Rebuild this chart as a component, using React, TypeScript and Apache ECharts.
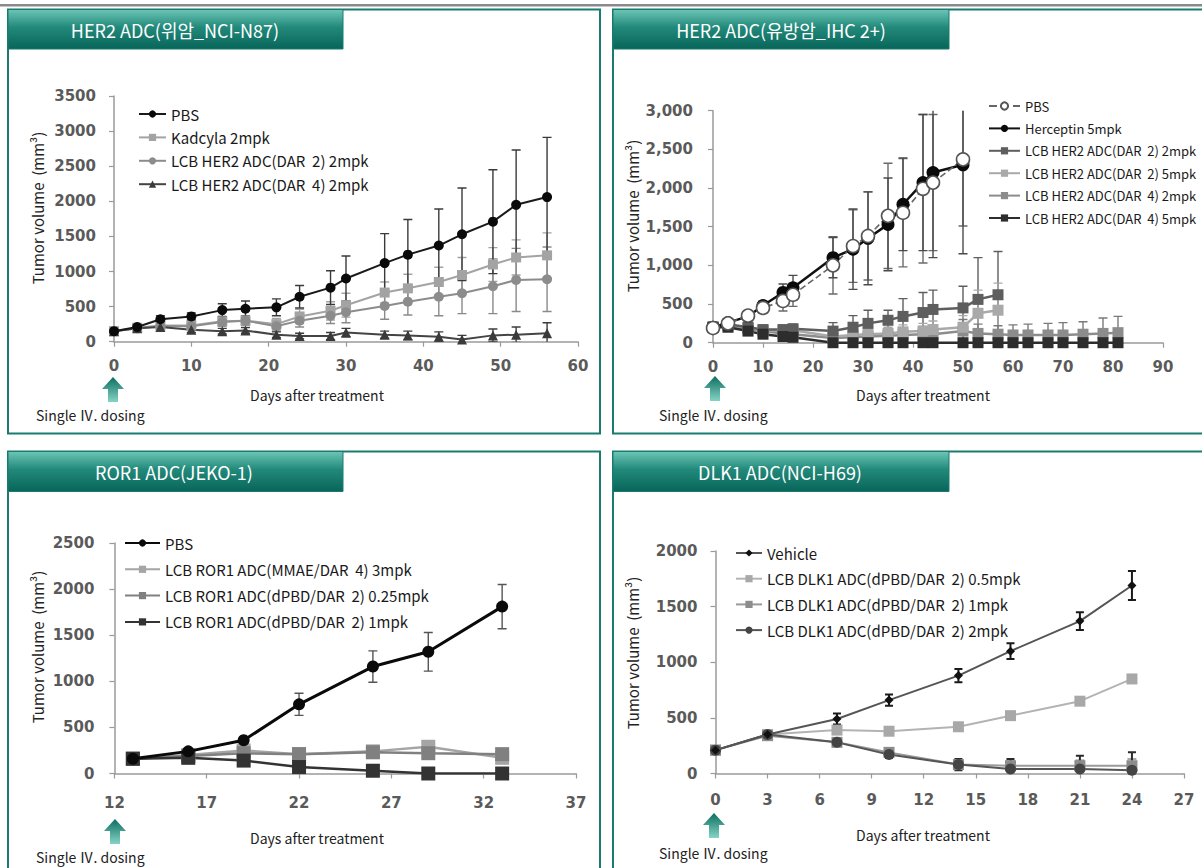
import React, { useEffect, useRef } from "react";
import * as echarts from "echarts";

// ---------- Panel 1: HER2 ADC (gastric, NCI-N87) ----------
const p1Days = [0, 3, 6, 10, 14, 17, 21, 24, 28, 30, 35, 38, 42, 45, 49, 52, 56];
const p1Pbs = [150, 210, 320, 360, 450, 470, 490, 640, 770, 900, 1120, 1240, 1370, 1530, 1710, 1950, 2060];
const p1PbsErr = [30, 40, 50, 50, 90, 110, 120, 160, 240, 320, 420, 500, 520, 660, 740, 780, 850];
const p1Kad = [150, 200, 230, 230, 290, 300, 250, 360, 440, 520, 700, 760, 850, 950, 1100, 1200, 1230];
const p1KadErr = [20, 30, 40, 40, 60, 70, 80, 100, 130, 170, 150, 200, 210, 250, 240, 250, 320];
const p1Dar2 = [150, 190, 220, 220, 280, 300, 220, 300, 370, 420, 510, 570, 640, 690, 790, 880, 890];
const p1Dar2Err = [20, 30, 40, 40, 60, 70, 70, 90, 110, 150, 190, 190, 270, 290, 390, 450, 460];
const p1Dar4 = [150, 190, 210, 170, 150, 160, 100, 80, 80, 130, 100, 90, 70, 30, 90, 100, 120];
const p1Dar4Err = [20, 30, 30, 40, 40, 40, 40, 40, 50, 60, 50, 60, 70, 60, 90, 110, 150];
const p1Names = ["PBS", "Kadcyla 2mpk", "LCB HER2 ADC(DAR  2) 2mpk", "LCB HER2 ADC(DAR  4) 2mpk"];

// ---------- Panel 2: HER2 ADC (breast, IHC 2+) ----------
const p2DaysA = [0, 3, 7, 10, 14, 16, 24, 28, 31, 35, 38, 42, 44, 50];
const p2DaysB = [0, 3, 7, 10, 14, 16, 24, 28, 31, 35, 38, 42, 44, 50, 53, 57];
const p2DaysC = [0, 3, 7, 10, 14, 16, 24, 28, 31, 35, 38, 42, 44, 50, 53, 57, 60, 63, 67, 70, 74, 78, 81];
const p2Pbs = [190, 250, 350, 450, 540, 620, 1000, 1250, 1380, 1640, 1680, 1990, 2070, 2370];
const p2PbsErr = [30, 40, 60, 70, 130, 150, 370, 470, 570, 680, 700, 960, 880, 860];
const p2Herc = [200, 260, 340, 480, 650, 710, 1100, 1210, 1350, 1530, 1790, 2070, 2200, 2300];
const p2HercErr = [30, 40, 60, 60, 110, 160, 260, 520, 600, 600, 600, 880, 1100, 1150];
const p2D2m2 = [200, 240, 200, 170, 170, 180, 150, 200, 250, 290, 340, 390, 430, 450, 560, 620];
const p2D2m2Err = [30, 40, 40, 40, 50, 60, 110, 150, 170, 130, 230, 260, 250, 280, 540, 560];
const p2D2m5 = [200, 230, 190, 160, 150, 160, 80, 100, 110, 120, 140, 150, 170, 200, 380, 420];
const p2D2m5Err = [30, 30, 30, 40, 40, 50, 60, 70, 80, 80, 90, 100, 110, 150, 300, 350];
const p2D4m2 = [200, 220, 180, 150, 120, 110, 60, 70, 80, 90, 100, 110, 110, 150, 120, 110, 100, 100, 100, 100, 110, 120, 130];
const p2D4m2Err = [30, 30, 30, 30, 40, 40, 60, 70, 80, 80, 90, 100, 100, 150, 120, 110, 130, 140, 150, 160, 160, 200, 210];
const p2D4m5 = [200, 200, 150, 110, 80, 70, 0, 0, 0, 0, 0, 0, 0, 0, 0, 0, 0, 0, 0, 0, 0, 0, 0];
const p2D4m5Err = [20, 20, 20, 20, 20, 20, 5, 5, 5, 5, 5, 5, 5, 5, 5, 5, 5, 5, 5, 5, 5, 5, 5];
const p2Names = [
  "PBS",
  "Herceptin 5mpk",
  "LCB HER2 ADC(DAR  2) 2mpk",
  "LCB HER2 ADC(DAR  2) 5mpk",
  "LCB HER2 ADC(DAR  4) 2mpk",
  "LCB HER2 ADC(DAR  4) 5mpk",
];

// ---------- Panel 3: ROR1 ADC (JEKO-1) ----------
const p3Days = [13, 16, 19, 22, 26, 29, 33];
const p3Pbs = [160, 240, 360, 750, 1160, 1320, 1810];
const p3PbsErr = [20, 30, 40, 120, 170, 210, 240];
const p3Mmae = [160, 200, 250, 210, 240, 290, 170];
const p3MmaeErr = [20, 30, 40, 30, 40, 50, 40];
const p3D025 = [160, 190, 220, 210, 230, 220, 210];
const p3D025Err = [20, 30, 30, 30, 30, 40, 50];
const p3D1 = [160, 170, 140, 70, 30, 0, 0];
const p3D1Err = [20, 20, 20, 20, 10, 10, 5];
const p3Names = [
  "PBS",
  "LCB ROR1 ADC(MMAE/DAR  4) 3mpk",
  "LCB ROR1 ADC(dPBD/DAR  2) 0.25mpk",
  "LCB ROR1 ADC(dPBD/DAR  2) 1mpk",
];

// ---------- Panel 4: DLK1 ADC (NCI-H69) ----------
const p4Days = [0, 3, 7, 10, 14, 17, 21, 24];
const p4Veh = [210, 350, 490, 660, 880, 1100, 1370, 1690];
const p4VehErr = [15, 20, 50, 50, 60, 70, 80, 130];
const p4D05 = [210, 350, 390, 380, 420, 520, 650, 850];
const p4D05Err = [10, 15, 20, 20, 20, 20, 20, 30];
const p4D1 = [210, 340, 280, 190, 80, 70, 70, 70];
const p4D1Err = [10, 15, 20, 30, 40, 40, 50, 60];
const p4D2 = [210, 350, 280, 170, 80, 40, 40, 30];
const p4D2Err = [10, 15, 20, 30, 50, 90, 120, 160];
const p4Names = [
  "Vehicle",
  "LCB DLK1 ADC(dPBD/DAR  2) 0.5mpk",
  "LCB DLK1 ADC(dPBD/DAR  2) 1mpk",
  "LCB DLK1 ADC(dPBD/DAR  2) 2mpk",
];

const panelTitles = ["HER2 ADC(위암_NCI-N87)", "HER2 ADC(유방암_IHC 2+)", "ROR1 ADC(JEKO-1)", "DLK1 ADC(NCI-H69)"];
const xTitle = "Days after treatment";
const yTitle = "Tumor volume  (mm³)";
const doseText = "Single Ⅳ. dosing";

const KR = "'Noto Sans CJK KR', 'Noto Sans', sans-serif";
const TICKF = "'DejaVu Sans', sans-serif";

type Sty = { symbol: string; size: number; fill: string; line: string; width: number; border?: string; bw?: number; dash?: boolean; z?: number };

const key = (p: number, n: string) => `p${p}|${n}`;

const mkLine = (gi: number, name: string, xs: number[], ys: number[], s: Sty) => ({
  type: "line",
  name,
  xAxisIndex: gi,
  yAxisIndex: gi,
  data: xs.map((x, i) => [x, ys[i]]),
  symbol: s.symbol,
  symbolSize: s.size,
  lineStyle: { color: s.line, width: s.width, type: s.dash ? "dashed" : "solid" },
  itemStyle: { color: s.fill, borderColor: s.border ?? s.fill, borderWidth: s.bw ?? 0 },
  z: s.z ?? 3,
  clip: true,
});

const mkErr = (gi: number, xs: number[], ys: number[], es: number[], color: string, cap = 9, lw = 1.4) => ({
  type: "custom",
  xAxisIndex: gi,
  yAxisIndex: gi,
  clip: true,
  silent: true,
  z: 2,
  encode: { x: 0, y: [1, 2] },
  data: xs.map((x, i) => [x, ys[i] - es[i], ys[i] + es[i]]),
  renderItem: (_p: any, api: any) => {
    const x = api.value(0);
    const lo = api.coord([x, api.value(1)]);
    const hi = api.coord([x, api.value(2)]);
    const h = cap / 2;
    const st = { stroke: color, lineWidth: lw, fill: "none" };
    return {
      type: "group",
      children: [
        { type: "line", shape: { x1: lo[0], y1: lo[1], x2: hi[0], y2: hi[1] }, style: st },
        { type: "line", shape: { x1: hi[0] - h, y1: hi[1], x2: hi[0] + h, y2: hi[1] }, style: st },
        { type: "line", shape: { x1: lo[0] - h, y1: lo[1], x2: lo[0] + h, y2: lo[1] }, style: st },
      ],
    };
  },
});

const tealGrad = () =>
  new echarts.graphic.LinearGradient(0, 0, 0, 1, [
    { offset: 0, color: "#6cc6b6" },
    { offset: 0.45, color: "#22897a" },
    { offset: 1, color: "#08655a" },
  ]);
const arrowGrad = () =>
  new echarts.graphic.LinearGradient(0, 0, 0, 1, [
    { offset: 0, color: "#0d6e61" },
    { offset: 1, color: "#84d4c5" },
  ]);

const arrow = (cx: number, t: number) => ({
  type: "polygon",
  shape: {
    points: [
      [cx, t],
      [cx + 11, t + 12],
      [cx + 5, t + 12],
      [cx + 5, t + 25],
      [cx - 5, t + 25],
      [cx - 5, t + 12],
      [cx - 11, t + 12],
    ],
  },
  style: { fill: arrowGrad() },
});

const txt = (x: number, y: number, text: string, size: number, color: string, align = "center", rot = 0, family = KR) => ({
  type: "text",
  x,
  y,
  rotation: rot,
  style: { text, fill: color, fontSize: size, fontFamily: family, align, verticalAlign: "middle" },
  z: 10,
});

const panelRect = (x: number, y: number, w: number, h: number) => ({
  type: "rect",
  shape: { x, y, width: w, height: h },
  style: { fill: "none", stroke: "#1b7b6e", lineWidth: 2 },
  z: 1,
});
const tab = (x: number, y: number, w: number, h: number) => ({
  type: "rect",
  shape: { x, y, width: w, height: h },
  style: { fill: tealGrad(), stroke: "#1b7b6e", lineWidth: 1 },
  z: 2,
});

const plain = (v: number) => String(v);
const comma = (v: number) => v.toLocaleString("en-US");

const axisLabel = (margin: number, fmt: (v: number) => string) => ({
  fontFamily: TICKF,
  fontSize: 15,
  fontWeight: "bold",
  color: "#5a5a5a",
  margin,
  lineHeight: 16,
  formatter: fmt,
});
const axisLine = { show: true, lineStyle: { color: "#9a9a9a", width: 1.5 } };
const axisTick = { show: true, length: 5, lineStyle: { color: "#9a9a9a", width: 1.2 } };

const mkX = (gi: number, min: number, max: number, interval: number, margin: number) => ({
  type: "value",
  gridIndex: gi,
  min,
  max,
  interval,
  axisLine,
  axisTick,
  splitLine: { show: false },
  axisLabel: axisLabel(margin, plain),
});
const mkY = (gi: number, max: number, interval: number, margin: number, fmt: (v: number) => string) => ({
  type: "value",
  gridIndex: gi,
  min: 0,
  max,
  interval,
  axisLine,
  axisTick,
  splitLine: { show: false },
  axisLabel: axisLabel(margin, fmt),
});

const mkLegend = (names: string[], left: number, top: number, gap: number, iw: number, family: string, size: number) => ({
  data: names,
  orient: "vertical",
  left,
  top,
  padding: 0,
  itemGap: gap,
  itemWidth: iw,
  itemHeight: 9,
  selectedMode: false,
  formatter: (n: string) => n.split("|")[1],
  textStyle: { fontFamily: family, fontSize: size, color: "#1a1a1a", lineHeight: 16 },
});

export default function App() {
  const ref = useRef<HTMLDivElement>(null);
  useEffect(() => {
    if (!ref.current) return;
    const chart = echarts.init(ref.current, undefined, { renderer: "svg" });

    const n1 = p1Names.map((n) => key(1, n));
    const n2 = p2Names.map((n) => key(2, n));
    const n3 = p3Names.map((n) => key(3, n));
    const n4 = p4Names.map((n) => key(4, n));

    const series: any[] = [
      // panel 1
      mkErr(0, p1Days, p1Kad, p1KadErr, "#a3a3a3"),
      mkErr(0, p1Days, p1Dar2, p1Dar2Err, "#8a8a8a"),
      mkErr(0, p1Days, p1Dar4, p1Dar4Err, "#3c3c3c"),
      mkErr(0, p1Days, p1Pbs, p1PbsErr, "#3a3a3a"),
      mkLine(0, n1[1], p1Days, p1Kad, { symbol: "rect", size: 10, fill: "#a3a3a3", line: "#a3a3a3", width: 2 }),
      mkLine(0, n1[2], p1Days, p1Dar2, { symbol: "circle", size: 10, fill: "#8c8c8c", line: "#8c8c8c", width: 2 }),
      mkLine(0, n1[3], p1Days, p1Dar4, { symbol: "triangle", size: 10, fill: "#3a3a3a", line: "#444444", width: 2 }),
      mkLine(0, n1[0], p1Days, p1Pbs, { symbol: "circle", size: 10, fill: "#0a0a0a", line: "#1a1a1a", width: 2, z: 4 }),
      // panel 2
      mkErr(1, p2DaysA, p2Pbs, p2PbsErr, "#6a6a6a"),
      mkErr(1, p2DaysA, p2Herc, p2HercErr, "#4a4a4a"),
      mkErr(1, p2DaysB, p2D2m2, p2D2m2Err, "#5e5e5e"),
      mkErr(1, p2DaysB, p2D2m5, p2D2m5Err, "#a9a9a9"),
      mkErr(1, p2DaysC, p2D4m2, p2D4m2Err, "#7a7a7a"),
      mkErr(1, p2DaysC, p2D4m5, p2D4m5Err, "#2d2d2d"),
      mkLine(1, n2[4], p2DaysC, p2D4m2, { symbol: "rect", size: 11, fill: "#8c8c8c", line: "#8c8c8c", width: 2.5 }),
      mkLine(1, n2[3], p2DaysB, p2D2m5, { symbol: "rect", size: 11, fill: "#a9a9a9", line: "#a9a9a9", width: 2.5 }),
      mkLine(1, n2[2], p2DaysB, p2D2m2, { symbol: "rect", size: 11, fill: "#5e5e5e", line: "#5e5e5e", width: 2.5 }),
      mkLine(1, n2[5], p2DaysC, p2D4m5, { symbol: "rect", size: 11, fill: "#2d2d2d", line: "#2d2d2d", width: 2.5 }),
      mkLine(1, n2[1], p2DaysA, p2Herc, { symbol: "circle", size: 13, fill: "#0a0a0a", line: "#111111", width: 2.5, z: 4 }),
      mkLine(1, n2[0], p2DaysA, p2Pbs, { symbol: "circle", size: 13, fill: "#ffffff", border: "#555555", bw: 1.6, line: "#666666", width: 1.6, dash: true, z: 4 }),
      // panel 3
      mkErr(2, p3Days, p3Mmae, p3MmaeErr, "#a5a5a5"),
      mkErr(2, p3Days, p3D025, p3D025Err, "#808080"),
      mkErr(2, p3Days, p3D1, p3D1Err, "#333333"),
      mkErr(2, p3Days, p3Pbs, p3PbsErr, "#555555"),
      mkLine(2, n3[1], p3Days, p3Mmae, { symbol: "rect", size: 14, fill: "#a5a5a5", line: "#a5a5a5", width: 2.5 }),
      mkLine(2, n3[2], p3Days, p3D025, { symbol: "rect", size: 14, fill: "#808080", line: "#808080", width: 2.5 }),
      mkLine(2, n3[3], p3Days, p3D1, { symbol: "rect", size: 14, fill: "#333333", line: "#333333", width: 2.5 }),
      mkLine(2, n3[0], p3Days, p3Pbs, { symbol: "circle", size: 12, fill: "#0a0a0a", line: "#0a0a0a", width: 3, z: 4 }),
      // panel 4
      mkErr(3, p4Days, p4D05, p4D05Err, "#a8a8a8"),
      mkErr(3, p4Days, p4D1, p4D1Err, "#8a8a8a"),
      mkErr(3, p4Days, p4D2, p4D2Err, "#2a2a2a", 8, 2),
      mkErr(3, p4Days, p4Veh, p4VehErr, "#1a1a1a", 8, 2),
      mkLine(3, n4[1], p4Days, p4D05, { symbol: "rect", size: 11, fill: "#a8a8a8", line: "#b3b3b3", width: 2 }),
      mkLine(3, n4[2], p4Days, p4D1, { symbol: "rect", size: 11, fill: "#8c8c8c", line: "#9a9a9a", width: 2 }),
      mkLine(3, n4[3], p4Days, p4D2, { symbol: "circle", size: 11, fill: "#444444", line: "#555555", width: 2 }),
      mkLine(3, n4[0], p4Days, p4Veh, { symbol: "diamond", size: 9, fill: "#111111", line: "#555555", width: 2, z: 4 }),
    ];

    const graphic: any[] = [
      { type: "rect", shape: { x: 0, y: 4, width: 1202, height: 2.5 }, style: { fill: "#8a8a8a" }, z: 1 },
      panelRect(8, 9.5, 592, 424),
      panelRect(613, 9.5, 620, 424),
      panelRect(8, 451.5, 592, 440),
      panelRect(613, 451.5, 620, 440),
      tab(8, 9.5, 335, 39.5),
      tab(613, 9.5, 336, 39.5),
      tab(8, 451.5, 335, 40),
      tab(613, 451.5, 336, 40),
      txt(175, 29.5, panelTitles[0], 18, "#ffffff"),
      txt(781, 29.5, panelTitles[1], 18, "#ffffff"),
      txt(174, 471.5, panelTitles[2], 18, "#ffffff"),
      txt(780, 471.5, panelTitles[3], 18, "#ffffff"),
      txt(317, 395, xTitle, 14, "#222222"),
      txt(923, 395, xTitle, 14, "#222222"),
      txt(317, 837.5, xTitle, 14, "#222222"),
      txt(923, 835, xTitle, 14, "#222222"),
      txt(37, 208, yTitle, 15, "#222222", "center", Math.PI / 2),
      txt(632, 216, yTitle, 15, "#222222", "center", Math.PI / 2),
      txt(37, 647, yTitle, 15, "#222222", "center", Math.PI / 2),
      txt(632, 653, yTitle, 15, "#222222", "center", Math.PI / 2),
      arrow(113, 377),
      arrow(715, 376),
      arrow(115, 819),
      arrow(714, 813),
      txt(36, 415, doseText, 14, "#222222", "left"),
      txt(659, 415, doseText, 14, "#222222", "left"),
      txt(36, 857, doseText, 14, "#222222", "left"),
      txt(659, 853, doseText, 14, "#222222", "left"),
    ];

    chart.setOption({
      animation: false,
      backgroundColor: "#ffffff",
      grid: [
        { left: 114, top: 96, width: 464, height: 245.7, outerBoundsMode: "none", containLabel: false },
        { left: 713, top: 110.7, width: 450, height: 232, outerBoundsMode: "none", containLabel: false },
        { left: 114.4, top: 543, width: 461.6, height: 230.5, outerBoundsMode: "none", containLabel: false },
        { left: 715.5, top: 551, width: 468.5, height: 222.5, outerBoundsMode: "none", containLabel: false },
      ],
      xAxis: [mkX(0, 0, 60, 10, 16), mkX(1, 0, 90, 10, 16), mkX(2, 12, 37, 5, 21), mkX(3, 0, 27, 3, 18)],
      yAxis: [mkY(0, 3500, 500, 18, plain), mkY(1, 3000, 500, 20, comma), mkY(2, 2500, 500, 20, plain), mkY(3, 2000, 500, 18, plain)],
      legend: [
        mkLegend(n1, 138, 106, 7.4, 27, KR, 15),
        mkLegend(n2, 988, 98, 6.4, 31, KR, 13),
        mkLegend(n3, 124, 535, 10.3, 35, KR, 15),
        mkLegend(n4, 735, 545, 9.7, 26, KR, 15),
      ],
      graphic,
      series,
    });
    return () => chart.dispose();
  }, []);
  return <div ref={ref} style={{ position: "fixed", left: 0, top: 0, width: 1202, height: 868, background: "#fff" }} />;
}
